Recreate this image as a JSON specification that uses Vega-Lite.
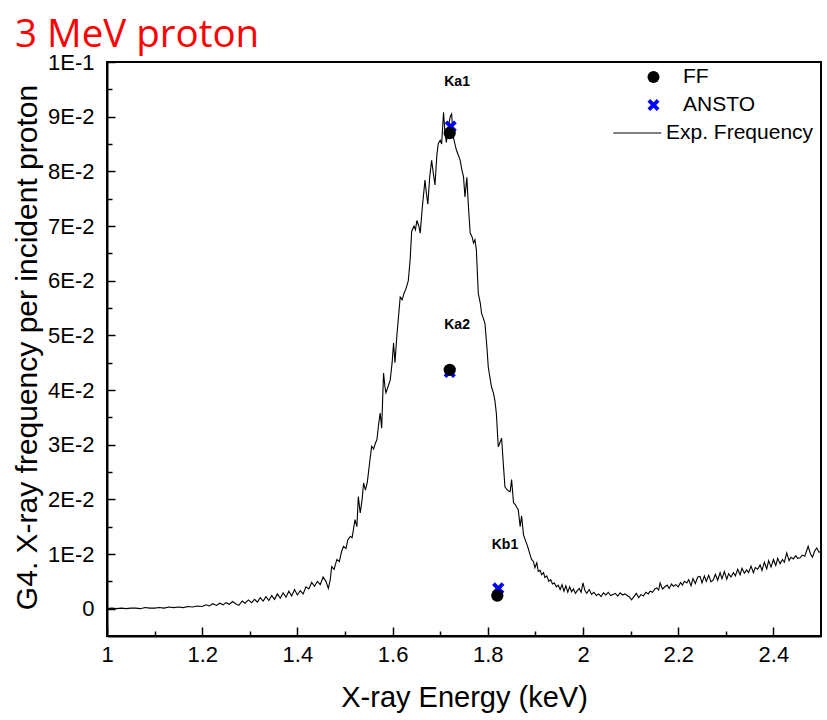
{
  "$schema": "https://vega.github.io/schema/vega-lite/v6.json",
  "width": 714,
  "height": 574,
  "autosize": {"type": "none"},
  "padding": {"left": 107, "top": 62, "right": 6, "bottom": 84},
  "background": "white",
  "config": {"view": {"stroke": "black", "strokeWidth": 2}, "font": "Liberation Sans"},
  "title": {"text": "3 MeV proton", "color": "#ff0000", "font": "Open Sans", "fontSize": 38.5, "fontWeight": "normal", "anchor": "start", "frame": "group", "dx": -92, "dy": 46, "offset": 12, "baseline": "alphabetic"},
  "datasets": {
    "spectrum": [
      {"energy":1.000,"frequency":0.0000},{"energy":1.010,"frequency":0.0001},{"energy":1.020,"frequency":0.0000},{"energy":1.030,"frequency":0.0001},{"energy":1.040,"frequency":0.0000},{"energy":1.050,"frequency":0.0001},{"energy":1.060,"frequency":0.0001},{"energy":1.070,"frequency":0.0000},{"energy":1.080,"frequency":0.0002},{"energy":1.090,"frequency":0.0001},{"energy":1.100,"frequency":0.0001},{"energy":1.110,"frequency":0.0002},{"energy":1.120,"frequency":0.0001},{"energy":1.130,"frequency":0.0003},{"energy":1.140,"frequency":0.0002},{"energy":1.150,"frequency":0.0003},{"energy":1.160,"frequency":0.0002},{"energy":1.170,"frequency":0.0004},{"energy":1.180,"frequency":0.0003},{"energy":1.190,"frequency":0.0005},{"energy":1.200,"frequency":0.0004},
      {"energy":1.208,"frequency":0.0007},{"energy":1.215,"frequency":0.0005},{"energy":1.222,"frequency":0.0009},{"energy":1.230,"frequency":0.0006},{"energy":1.237,"frequency":0.0010},{"energy":1.244,"frequency":0.0007},{"energy":1.250,"frequency":0.0011},{"energy":1.257,"frequency":0.0008},{"energy":1.264,"frequency":0.0013},{"energy":1.270,"frequency":0.0009},{"energy":1.277,"frequency":0.0006},{"energy":1.284,"frequency":0.0014},{"energy":1.290,"frequency":0.0010},{"energy":1.297,"frequency":0.0016},{"energy":1.304,"frequency":0.0011},{"energy":1.310,"frequency":0.0017},{"energy":1.316,"frequency":0.0012},{"energy":1.322,"frequency":0.0020},{"energy":1.328,"frequency":0.0014},{"energy":1.334,"frequency":0.0022},{"energy":1.340,"frequency":0.0015},{"energy":1.346,"frequency":0.0024},{"energy":1.352,"frequency":0.0017},{"energy":1.358,"frequency":0.0027},{"energy":1.364,"frequency":0.0019},{"energy":1.370,"frequency":0.0029},{"energy":1.376,"frequency":0.0021},{"energy":1.382,"frequency":0.0032},{"energy":1.388,"frequency":0.0023},{"energy":1.394,"frequency":0.0035},{"energy":1.400,"frequency":0.0025},
      {"energy":1.406,"frequency":0.0033},{"energy":1.412,"frequency":0.0027},{"energy":1.418,"frequency":0.0040},{"energy":1.424,"frequency":0.0036},{"energy":1.430,"frequency":0.0048},{"energy":1.436,"frequency":0.0041},{"energy":1.442,"frequency":0.0050},{"energy":1.448,"frequency":0.0044},{"energy":1.454,"frequency":0.0058},{"energy":1.460,"frequency":0.0050},{"energy":1.465,"frequency":0.0037},{"energy":1.469,"frequency":0.0053},{"energy":1.472,"frequency":0.0077},{"energy":1.477,"frequency":0.0072},{"energy":1.483,"frequency":0.0090},{"energy":1.488,"frequency":0.0086},{"energy":1.493,"frequency":0.0105},{"energy":1.497,"frequency":0.0114},{"energy":1.502,"frequency":0.0110},{"energy":1.506,"frequency":0.0126},{"energy":1.511,"frequency":0.0132},{"energy":1.515,"frequency":0.0130},{"energy":1.521,"frequency":0.0163},{"energy":1.525,"frequency":0.0150},{"energy":1.528,"frequency":0.0205},{"energy":1.532,"frequency":0.0175},{"energy":1.536,"frequency":0.0200},{"energy":1.539,"frequency":0.0230},{"energy":1.543,"frequency":0.0217},{"energy":1.547,"frequency":0.0232},{"energy":1.551,"frequency":0.0262},{"energy":1.556,"frequency":0.0297},{"energy":1.560,"frequency":0.0292},{"energy":1.564,"frequency":0.0303},{"energy":1.567,"frequency":0.0309},{"energy":1.571,"frequency":0.0340},{"energy":1.574,"frequency":0.0358},{"energy":1.577,"frequency":0.0330},{"energy":1.581,"frequency":0.0431},{"energy":1.584,"frequency":0.0405},{"energy":1.586,"frequency":0.0395},{"energy":1.590,"frequency":0.0405},{"energy":1.595,"frequency":0.0418},{"energy":1.599,"frequency":0.0450},
      {"energy":1.602,"frequency":0.0486},{"energy":1.605,"frequency":0.0450},{"energy":1.609,"frequency":0.0500},{"energy":1.613,"frequency":0.0540},{"energy":1.616,"frequency":0.0570},{"energy":1.620,"frequency":0.0565},{"energy":1.624,"frequency":0.0577},{"energy":1.628,"frequency":0.0585},{"energy":1.633,"frequency":0.0600},{"energy":1.637,"frequency":0.0640},{"energy":1.640,"frequency":0.0690},{"energy":1.645,"frequency":0.0700},{"energy":1.648,"frequency":0.0693},{"energy":1.651,"frequency":0.0710},{"energy":1.655,"frequency":0.0700},{"energy":1.658,"frequency":0.0687},{"energy":1.662,"frequency":0.0730},{"energy":1.668,"frequency":0.0784},{"energy":1.671,"frequency":0.0760},{"energy":1.674,"frequency":0.0740},{"energy":1.678,"frequency":0.0790},{"energy":1.682,"frequency":0.0820},{"energy":1.685,"frequency":0.0800},{"energy":1.689,"frequency":0.0775},{"energy":1.693,"frequency":0.0830},{"energy":1.696,"frequency":0.0851},{"energy":1.700,"frequency":0.0857},{"energy":1.703,"frequency":0.0850},{"energy":1.707,"frequency":0.0908},{"energy":1.710,"frequency":0.0870},{"energy":1.713,"frequency":0.0853},{"energy":1.717,"frequency":0.0880},{"energy":1.721,"frequency":0.0900},{"energy":1.724,"frequency":0.0905},{"energy":1.727,"frequency":0.0865},{"energy":1.731,"frequency":0.0850},{"energy":1.734,"frequency":0.0839},{"energy":1.738,"frequency":0.0830},{"energy":1.742,"frequency":0.0820},{"energy":1.745,"frequency":0.0805},{"energy":1.749,"frequency":0.0790},{"energy":1.752,"frequency":0.0753},{"energy":1.756,"frequency":0.0789},{"energy":1.759,"frequency":0.0740},{"energy":1.763,"frequency":0.0687},{"energy":1.767,"frequency":0.0680},{"energy":1.770,"frequency":0.0669},{"energy":1.773,"frequency":0.0675},{"energy":1.776,"frequency":0.0656},{"energy":1.780,"frequency":0.0577},{"energy":1.784,"frequency":0.0560},{"energy":1.787,"frequency":0.0540},{"energy":1.791,"frequency":0.0530},{"energy":1.794,"frequency":0.0522},{"energy":1.798,"frequency":0.0480},
      {"energy":1.801,"frequency":0.0442},{"energy":1.805,"frequency":0.0420},{"energy":1.808,"frequency":0.0405},{"energy":1.812,"frequency":0.0394},{"energy":1.815,"frequency":0.0380},{"energy":1.818,"frequency":0.0357},{"energy":1.822,"frequency":0.0296},{"energy":1.826,"frequency":0.0305},{"energy":1.829,"frequency":0.0312},{"energy":1.833,"frequency":0.0260},{"energy":1.836,"frequency":0.0223},{"energy":1.840,"frequency":0.0218},{"energy":1.844,"frequency":0.0215},{"energy":1.847,"frequency":0.0214},{"energy":1.850,"frequency":0.0236},{"energy":1.854,"frequency":0.0194},{"energy":1.858,"frequency":0.0190},{"energy":1.861,"frequency":0.0185},{"energy":1.864,"frequency":0.0181},{"energy":1.868,"frequency":0.0150},{"energy":1.871,"frequency":0.0170},{"energy":1.875,"frequency":0.0135},{"energy":1.879,"frequency":0.0125},{"energy":1.882,"frequency":0.0118},{"energy":1.885,"frequency":0.0110},{"energy":1.889,"frequency":0.0098},{"energy":1.892,"frequency":0.0090},{"energy":1.896,"frequency":0.0086},{"energy":1.899,"frequency":0.0075},{"energy":1.903,"frequency":0.0084},{"energy":1.906,"frequency":0.0068},{"energy":1.910,"frequency":0.0070},{"energy":1.913,"frequency":0.0062},{"energy":1.917,"frequency":0.0066},{"energy":1.920,"frequency":0.0057},{"energy":1.924,"frequency":0.0060},{"energy":1.928,"frequency":0.0050},{"energy":1.932,"frequency":0.0053},{"energy":1.936,"frequency":0.0045},{"energy":1.940,"frequency":0.0047},{"energy":1.944,"frequency":0.0040},{"energy":1.948,"frequency":0.0043},{"energy":1.952,"frequency":0.0035},{"energy":1.956,"frequency":0.0044},{"energy":1.960,"frequency":0.0032},{"energy":1.964,"frequency":0.0042},{"energy":1.968,"frequency":0.0030},{"energy":1.972,"frequency":0.0040},{"energy":1.976,"frequency":0.0031},{"energy":1.980,"frequency":0.0036},{"energy":1.984,"frequency":0.0028},{"energy":1.988,"frequency":0.0033},{"energy":1.992,"frequency":0.0037},{"energy":1.996,"frequency":0.0030},
      {"energy":2.000,"frequency":0.0047},{"energy":2.004,"frequency":0.0033},{"energy":2.008,"frequency":0.0028},{"energy":2.013,"frequency":0.0035},{"energy":2.018,"frequency":0.0026},{"energy":2.023,"frequency":0.0030},{"energy":2.028,"frequency":0.0024},{"energy":2.033,"frequency":0.0027},{"energy":2.038,"frequency":0.0022},{"energy":2.043,"frequency":0.0029},{"energy":2.048,"frequency":0.0025},{"energy":2.053,"frequency":0.0030},{"energy":2.058,"frequency":0.0024},{"energy":2.063,"frequency":0.0026},{"energy":2.068,"frequency":0.0028},{"energy":2.073,"frequency":0.0023},{"energy":2.078,"frequency":0.0029},{"energy":2.083,"frequency":0.0025},{"energy":2.088,"frequency":0.0027},{"energy":2.093,"frequency":0.0024},{"energy":2.098,"frequency":0.0021},{"energy":2.102,"frequency":0.0016},{"energy":2.107,"frequency":0.0022},{"energy":2.112,"frequency":0.0028},{"energy":2.117,"frequency":0.0020},{"energy":2.122,"frequency":0.0026},{"energy":2.127,"frequency":0.0023},{"energy":2.132,"frequency":0.0030},{"energy":2.137,"frequency":0.0027},{"energy":2.141,"frequency":0.0032},{"energy":2.146,"frequency":0.0030},{"energy":2.151,"frequency":0.0036},{"energy":2.155,"frequency":0.0038},{"energy":2.159,"frequency":0.0034},{"energy":2.162,"frequency":0.0047},{"energy":2.167,"frequency":0.0036},{"energy":2.172,"frequency":0.0040},{"energy":2.177,"frequency":0.0043},{"energy":2.181,"frequency":0.0037},{"energy":2.186,"frequency":0.0045},{"energy":2.190,"frequency":0.0041},{"energy":2.195,"frequency":0.0044},{"energy":2.200,"frequency":0.0040},
      {"energy":2.205,"frequency":0.0048},{"energy":2.209,"frequency":0.0043},{"energy":2.213,"frequency":0.0050},{"energy":2.218,"frequency":0.0047},{"energy":2.222,"frequency":0.0053},{"energy":2.227,"frequency":0.0042},{"energy":2.231,"frequency":0.0055},{"energy":2.236,"frequency":0.0046},{"energy":2.241,"frequency":0.0058},{"energy":2.246,"frequency":0.0059},{"energy":2.250,"frequency":0.0047},{"energy":2.255,"frequency":0.0060},{"energy":2.259,"frequency":0.0050},{"energy":2.264,"frequency":0.0061},{"energy":2.269,"frequency":0.0049},{"energy":2.274,"frequency":0.0053},{"energy":2.278,"frequency":0.0063},{"energy":2.283,"frequency":0.0052},{"energy":2.288,"frequency":0.0066},{"energy":2.292,"frequency":0.0055},{"energy":2.297,"frequency":0.0068},{"energy":2.302,"frequency":0.0054},{"energy":2.306,"frequency":0.0064},{"energy":2.311,"frequency":0.0058},{"energy":2.316,"frequency":0.0066},{"energy":2.320,"frequency":0.0060},{"energy":2.325,"frequency":0.0072},{"energy":2.330,"frequency":0.0062},{"energy":2.334,"frequency":0.0074},{"energy":2.339,"frequency":0.0065},{"energy":2.344,"frequency":0.0071},{"energy":2.348,"frequency":0.0066},{"energy":2.353,"frequency":0.0078},{"energy":2.358,"frequency":0.0066},{"energy":2.362,"frequency":0.0075},{"energy":2.367,"frequency":0.0072},{"energy":2.372,"frequency":0.0080},{"energy":2.376,"frequency":0.0070},{"energy":2.381,"frequency":0.0085},{"energy":2.386,"frequency":0.0073},{"energy":2.390,"frequency":0.0088},{"energy":2.395,"frequency":0.0076},{"energy":2.400,"frequency":0.0090},
      {"energy":2.405,"frequency":0.0079},{"energy":2.409,"frequency":0.0092},{"energy":2.414,"frequency":0.0082},{"energy":2.419,"frequency":0.0090},{"energy":2.423,"frequency":0.0085},{"energy":2.428,"frequency":0.0102},{"energy":2.433,"frequency":0.0088},{"energy":2.437,"frequency":0.0094},{"energy":2.442,"frequency":0.0091},{"energy":2.447,"frequency":0.0097},{"energy":2.451,"frequency":0.0092},{"energy":2.456,"frequency":0.0093},{"energy":2.461,"frequency":0.0098},{"energy":2.466,"frequency":0.0096},{"energy":2.473,"frequency":0.0114},{"energy":2.478,"frequency":0.0100},{"energy":2.482,"frequency":0.0094},{"energy":2.487,"frequency":0.0106},{"energy":2.491,"frequency":0.0111},{"energy":2.496,"frequency":0.0103},{"energy":2.500,"frequency":0.0105}
    ],
    "points": [
      {"peak":"Ka1","energy":1.722,"frequency":0.0882,"series":"ANSTO"},
      {"peak":"Ka2","energy":1.720,"frequency":0.0433,"series":"ANSTO"},
      {"peak":"Kb1","energy":1.822,"frequency":0.0037,"series":"ANSTO"},
      {"peak":"Ka1","energy":1.720,"frequency":0.0870,"series":"FF"},
      {"peak":"Ka2","energy":1.720,"frequency":0.0437,"series":"FF"},
      {"peak":"Kb1","energy":1.820,"frequency":0.0024,"series":"FF"}
    ],
    "labels": [
      {"peak":"Ka1","energy":1.7355,"frequency":0.0963},
      {"peak":"Ka2","energy":1.7355,"frequency":0.0518},
      {"peak":"Kb1","energy":1.836,"frequency":0.0117}
    ]
  },
  "encoding": {
    "x": {
      "field": "energy", "type": "quantitative",
      "scale": {"domain": [1, 2.5], "nice": false, "zero": false},
      "axis": {
        "title": "X-ray Energy (keV)", "titleFont": "Liberation Sans", "titleFontSize": 29, "titleFontWeight": "normal", "titleColor": "black",
        "titleX": 357, "titleY": 61, "titleBaseline": "middle", "titleAlign": "center",
        "values": [1,1.1,1.2,1.3,1.4,1.5,1.6,1.7,1.8,1.9,2,2.1,2.2,2.3,2.4],
        "labelExpr": "round(datum.value*10) % 2 == 0 ? format(datum.value, '~g') : ''",
        "labelFont": "Liberation Sans", "labelFontSize": 22, "labelColor": "black", "labelPadding": 17,
        "labelFlush": false, "labelOverlap": false,
        "tickSize": {"condition": {"test": "round(datum.value*10) % 2 == 0", "value": -9}, "value": -5},
        "tickColor": "black", "tickWidth": 1.5,
        "domainColor": "black", "domainWidth": 2, "grid": false
      }
    },
    "y": {
      "field": "frequency", "type": "quantitative",
      "scale": {"domain": [-0.005, 0.1], "nice": false, "zero": false},
      "axis": {
        "title": "G4. X-ray frequency per incident proton", "titleFont": "Liberation Sans", "titleFontSize": 30, "titleFontWeight": "normal", "titleColor": "black",
        "titleX": -80, "titleY": 285, "titleBaseline": "middle", "titleAlign": "center", "titleAngle": -90,
        "values": [0,0.005,0.01,0.015,0.02,0.025,0.03,0.035,0.04,0.045,0.05,0.055,0.06,0.065,0.07,0.075,0.08,0.085,0.09,0.095,0.1],
        "labelExpr": "round(datum.value*200) % 2 == 1 ? '' : (datum.value == 0 ? '0' : (datum.value > 0.0995 ? '1E-1' : round(datum.value*100) + 'E-2'))",
        "labelFont": "Liberation Sans", "labelFontSize": 22, "labelColor": "black", "labelPadding": 21,
        "labelFlush": false, "labelOverlap": false,
        "tickSize": {"condition": {"test": "round(datum.value*200) % 2 == 0", "value": -8}, "value": -5},
        "tickColor": "black", "tickWidth": 1.5,
        "domainColor": "black", "domainWidth": 2, "grid": false
      }
    }
  },
  "layer": [
    {
      "data": {"name": "spectrum"},
      "mark": {"type": "line", "strokeWidth": 1.1},
      "encoding": {
        "color": {
          "datum": "Exp. Frequency",
          "scale": {"domain": ["FF", "ANSTO", "Exp. Frequency"], "range": ["#000000", "#0000ff", "#000000"]},
          "legend": {
            "title": null, "orient": "none", "legendX": 536, "legendY": 4.5, "padding": 0,
            "labelFont": "Liberation Sans", "labelFontSize": 21, "labelColor": "black", "labelOffset": 19,
            "symbolSize": 144, "symbolStrokeWidth": 0, "rowPadding": 6,
            "encode": {
              "symbols": {"update": {"fill": {"scale": "color", "field": "value"}, "stroke": {"value": "transparent"}, "shape": {"scale": "shape", "field": "value"}}},
              "labels": {"update": {"dx": {"signal": "datum.value === 'Exp. Frequency' ? -17 : 0"}}}
            }
          }
        }
      }
    },
    {
      "data": {"name": "points"},
      "mark": {"type": "point", "filled": true, "size": 150, "opacity": 1},
      "encoding": {
        "color": {
          "field": "series", "type": "nominal",
          "legend": {
            "title": null, "orient": "none", "legendX": 536, "legendY": 4.5, "padding": 0,
            "labelFont": "Liberation Sans", "labelFontSize": 21, "labelColor": "black", "labelOffset": 19,
            "symbolSize": 144, "symbolStrokeWidth": 0, "rowPadding": 6,
            "encode": {
              "symbols": {"update": {"fill": {"scale": "color", "field": "value"}, "stroke": {"value": "transparent"}, "shape": {"scale": "shape", "field": "value"}}},
              "labels": {"update": {"dx": {"signal": "datum.value === 'Exp. Frequency' ? -17 : 0"}}}
            }
          }
        },
        "shape": {
          "field": "series", "type": "nominal",
          "scale": {"domain": ["FF", "ANSTO", "Exp. Frequency"], "range": ["circle", "M-1,-0.55L-0.55,-1L0,-0.45L0.55,-1L1,-0.55L0.45,0L1,0.55L0.55,1L0,0.45L-0.55,1L-1,0.55L-0.45,0Z", "M-6.7,-0.09L1.3,-0.09L1.3,0.09L-6.7,0.09Z"]},
          "legend": {
            "title": null, "orient": "none", "legendX": 536, "legendY": 4.5, "padding": 0,
            "labelFont": "Liberation Sans", "labelFontSize": 21, "labelColor": "black", "labelOffset": 19,
            "symbolSize": 144, "symbolStrokeWidth": 0, "rowPadding": 6,
            "encode": {
              "symbols": {"update": {"fill": {"scale": "color", "field": "value"}, "stroke": {"value": "transparent"}, "shape": {"scale": "shape", "field": "value"}}},
              "labels": {"update": {"dx": {"signal": "datum.value === 'Exp. Frequency' ? -17 : 0"}}}
            }
          }
        }
      }
    },
    {
      "data": {"name": "labels"},
      "mark": {"type": "text", "font": "Liberation Sans", "fontSize": 14, "fontWeight": "bold", "color": "black", "align": "center", "baseline": "middle"},
      "encoding": {"text": {"field": "peak"}}
    }
  ]
}
